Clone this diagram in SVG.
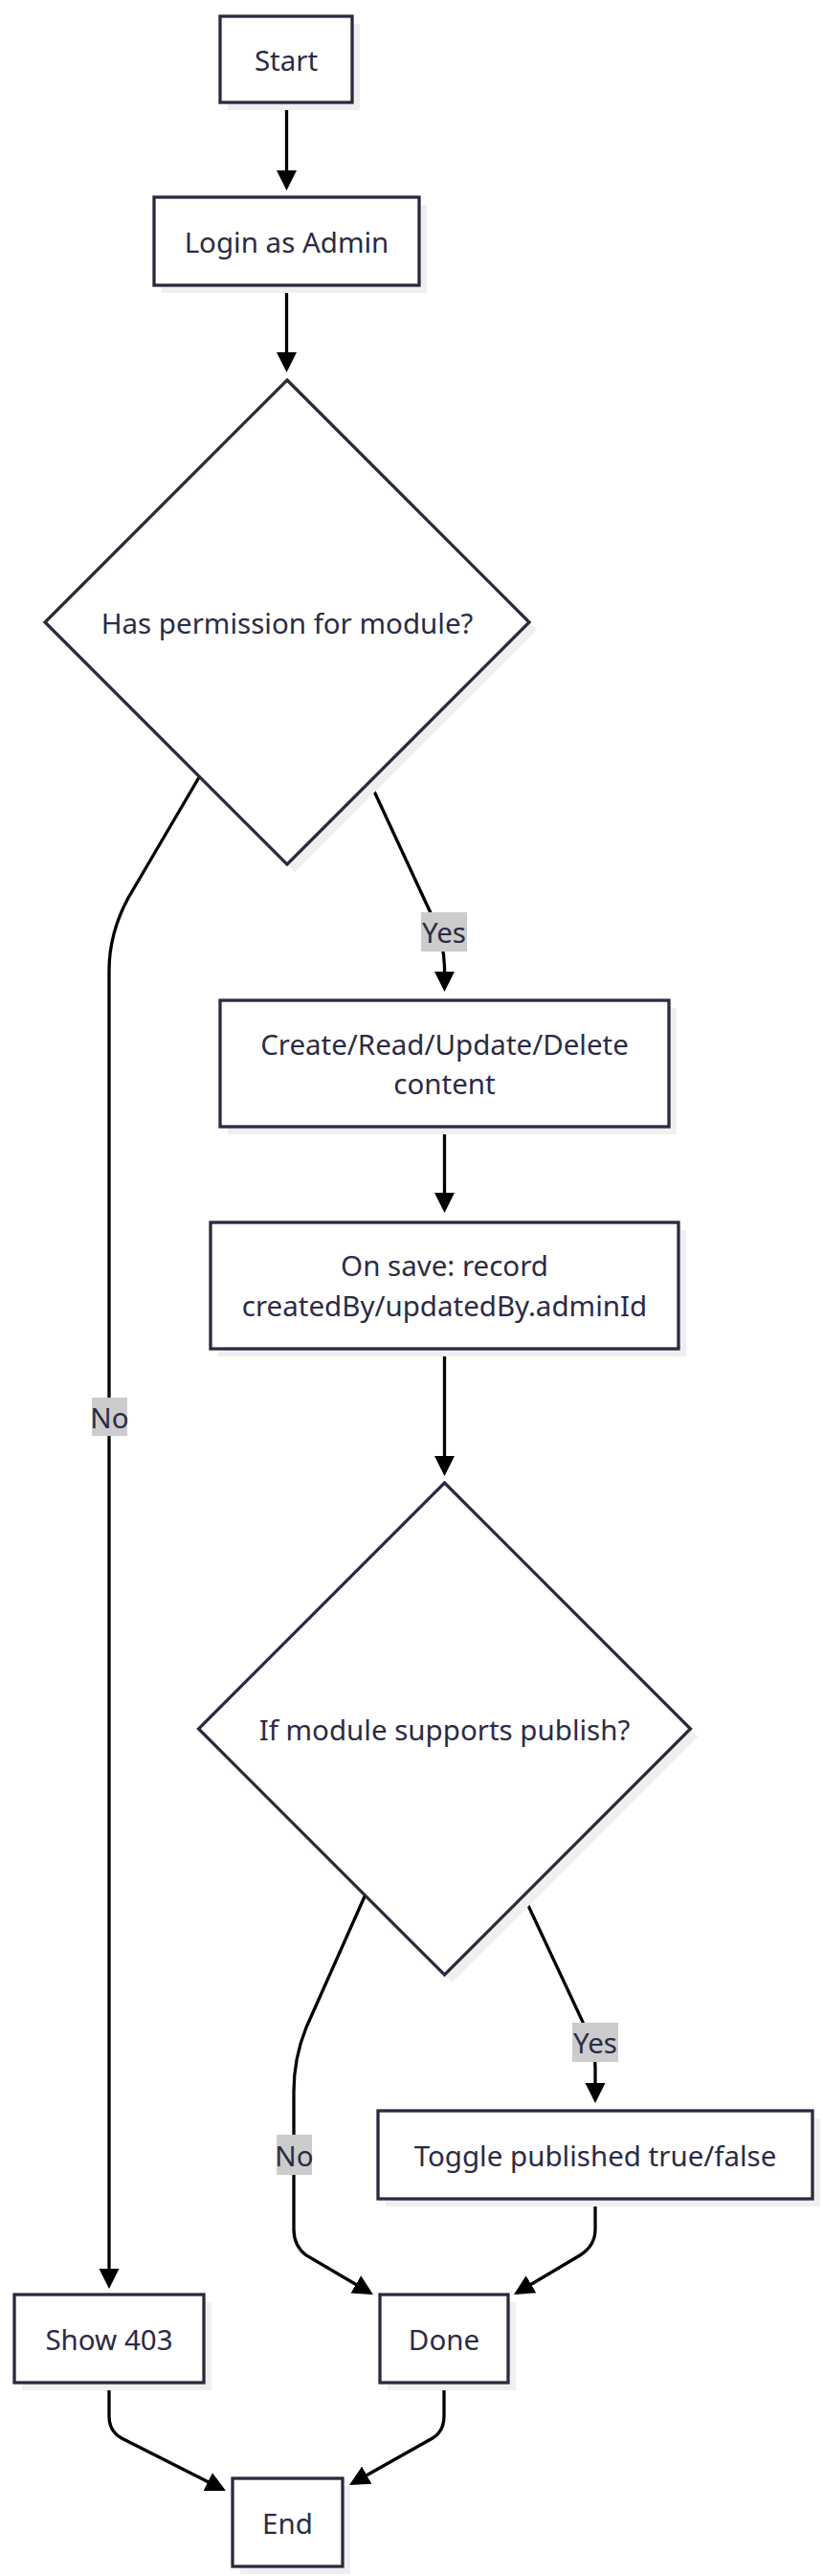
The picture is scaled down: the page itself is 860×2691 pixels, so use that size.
<svg xmlns="http://www.w3.org/2000/svg" width="860" height="2691" viewBox="0 0 860 2691">
<style>
.node rect, .node polygon { fill: #ffffff; stroke: #2a2a3f; stroke-width: 3.3; }
.node .shadow { fill: #efefef; stroke: none; }
.lbl { font-family: "Noto Sans", "Open Sans", sans-serif; font-size: 29.5px; fill: #2b2b45; text-anchor: middle; dominant-baseline: central; }
.edge { fill: none; stroke: #000000; stroke-width: 3.3; }
.ebg { fill: #cccccc; }
</style>
<defs>
<marker id="arrow" viewBox="0 0 10 10" refX="8.1" refY="5" markerWidth="21" markerHeight="25" markerUnits="userSpaceOnUse" orient="auto">
<path d="M0,0 L10,5 L0,10 z" fill="#000000"/>
</marker>
</defs>
<rect width="860" height="2691" fill="#ffffff"/>

<g id="connectors">
<path class="edge" marker-end="url(#arrow)" d="M299.5,107 L299.5,195"/>
<path class="edge" marker-end="url(#arrow)" d="M299.5,298 L299.5,385"/>
<path class="edge" marker-end="url(#arrow)" d="M208,812 L134,938 Q114,975 114,1014 L114,2387"/>
<path class="edge" marker-end="url(#arrow)" d="M387,818 L452,958 Q464,985 464.5,1010 L464.5,1032"/>
<path class="edge" marker-end="url(#arrow)" d="M464.5,1177 L464.5,1263"/>
<path class="edge" marker-end="url(#arrow)" d="M464.5,1409 L464.5,1538"/>
<path class="edge" marker-end="url(#arrow)" d="M381.5,1980 L320,2118 Q307,2150 307,2185 L307,2329 Q307,2346 320,2356 L386.5,2395"/>
<path class="edge" marker-end="url(#arrow)" d="M547,1980 L607,2108 Q622,2140 622,2160 L622,2193"/>
<path class="edge" marker-end="url(#arrow)" d="M622,2297 L622,2329 Q622,2346 606,2356 L540.4,2395"/>
<path class="edge" marker-end="url(#arrow)" d="M114,2489 L114,2524 Q114,2540 127,2547 L232.4,2600.2"/>
<path class="edge" marker-end="url(#arrow)" d="M464,2489 L464,2524 Q464,2540 452,2547 L368.5,2594"/>
<g id="edge-labels">
<rect class="ebg" x="96" y="1460" width="37" height="40"/>
<text class="lbl" x="114.5" y="1480">No</text>
<rect class="ebg" x="440" y="953" width="48" height="41"/>
<text class="lbl" x="464" y="973.5">Yes</text>
<rect class="ebg" x="289" y="2230" width="37" height="42"/>
<text class="lbl" x="307.5" y="2251">No</text>
<rect class="ebg" x="598" y="2113" width="48" height="41"/>
<text class="lbl" x="622" y="2133.5">Yes</text>
</g>
</g>

<g id="start" class="node">
<rect class="shadow" x="238" y="25" width="138" height="90"/>
<rect x="230" y="17" width="138" height="90"/>
<text class="lbl" x="299" y="62">Start</text>
</g>
<g id="login" class="node">
<rect class="shadow" x="169" y="214" width="277" height="92"/>
<rect x="161" y="206" width="277" height="92"/>
<text class="lbl" x="299.5" y="252">Login as Admin</text>
</g>
<g id="perm" class="node">
<polygon class="shadow" points="308,405 561,658 308,911 55,658"/>
<polygon points="300,397 553,650 300,903 47,650"/>
<text class="lbl" x="300" y="650">Has permission for module?</text>
</g>
<g id="crud" class="node">
<rect class="shadow" x="238" y="1053" width="469" height="132"/>
<rect x="230" y="1045" width="469" height="132"/>
<text class="lbl" x="464.5" y="1090">Create/Read/Update/Delete</text>
<text class="lbl" x="464.5" y="1131">content</text>
</g>
<g id="onsave" class="node">
<rect class="shadow" x="228" y="1285" width="489" height="132"/>
<rect x="220" y="1277" width="489" height="132"/>
<text class="lbl" x="464.5" y="1321">On save: record</text>
<text class="lbl" x="464.5" y="1363">createdBy/updatedBy.adminId</text>
</g>
<g id="publish" class="node">
<polygon class="shadow" points="472.5,1557 729.5,1814 472.5,2071 215.5,1814"/>
<polygon points="464.5,1549 721.5,1806 464.5,2063 207.5,1806"/>
<text class="lbl" x="464.5" y="1806">If module supports publish?</text>
</g>
<g id="toggle" class="node">
<rect class="shadow" x="403" y="2213" width="454" height="92"/>
<rect x="395" y="2205" width="454" height="92"/>
<text class="lbl" x="622" y="2251">Toggle published true/false</text>
</g>
<g id="show403" class="node">
<rect class="shadow" x="23" y="2405" width="198" height="92"/>
<rect x="15" y="2397" width="198" height="92"/>
<text class="lbl" x="114" y="2443">Show 403</text>
</g>
<g id="done" class="node">
<rect class="shadow" x="405" y="2405" width="134" height="92"/>
<rect x="397" y="2397" width="134" height="92"/>
<text class="lbl" x="464" y="2443">Done</text>
</g>
<g id="end" class="node">
<rect class="shadow" x="251" y="2597" width="115" height="92"/>
<rect x="243" y="2589" width="115" height="92"/>
<text class="lbl" x="300.5" y="2635">End</text>
</g>
</svg>
